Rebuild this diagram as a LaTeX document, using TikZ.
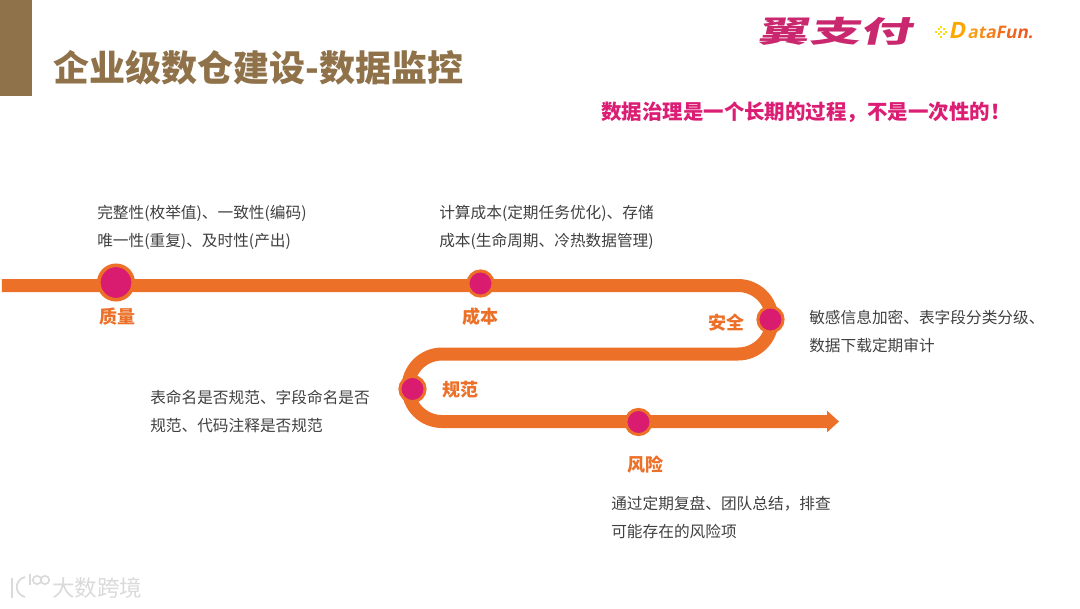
\documentclass[tikz,border=0pt]{standalone}
\usepackage{fontspec}
\usepackage{xcolor}
\usetikzlibrary{arrows.meta,positioning}
\setmainfont{Noto Sans CJK SC}
\newfontfamily\slantfont{Noto Sans CJK SC}[FakeSlant=0.22,FakeStretch=1.74]
\newfontfamily\funfont{Open Sans}[FakeSlant=0.2]
\definecolor{brownbar}{HTML}{8F7249}
\definecolor{routeorange}{HTML}{EC7028}
\definecolor{dotpink}{HTML}{D91C6F}
\definecolor{notepink}{HTML}{DB1E74}
\definecolor{logopink}{HTML}{C9286F}
\definecolor{bodygrey}{HTML}{404040}
\definecolor{markgrey}{HTML}{DADADA}
\tikzset{
  titletext/.style={anchor=west,inner sep=0pt,text=brownbar,font=\fontsize{25.6pt}{30pt}\selectfont\bfseries},
  bodytext/.style={anchor=west,inner sep=0pt,align=left,text=bodygrey,font=\fontsize{11.15pt}{19.9pt}\selectfont},
  marklabel/.style={inner sep=0pt,text=routeorange,font=\fontsize{12.8pt}{15pt}\selectfont\bfseries},
  route/.style={draw=routeorange,line width=3.25mm,rounded corners=8.5mm,-{Triangle[length=3mm,width=5.25mm]}},
  stopdot/.style={circle,draw=routeorange,fill=dotpink,line width=0.75mm,inner sep=0pt,minimum size=6.3mm},
  bigdot/.style={stopdot,line width=0.9mm,minimum size=8.6mm},
}
\begin{document}
\begin{tikzpicture}[x=0.025cm,y=-0.025cm]
\useasboundingbox (0,0) rectangle (1080,608);
\fill[brownbar] (0,0) rectangle (32,96);
\node[titletext] (title) at (53,68) {企业级数仓建设-数据监控};
\node[anchor=west,inner sep=0pt,text=notepink,font=\fontsize{14.55pt}{17pt}\selectfont\bfseries] (note) at (601,112) {数据治理是一个长期的过程，不是一次性的！};

\node[inner sep=0pt,text=logopink,font=\slantfont\fontsize{21pt}{24pt}\selectfont\bfseries] (paylogo) at (835,31) {翼支付};
\foreach \i/\j in {0/2,1/1,1/3,2/0,2/2,2/4,3/1,3/3,4/2}
  \fill[yellow!80!orange] (935+2.6*\i,25.5+2.6*\j) rectangle +(2,2);
\node[anchor=base west,inner sep=0pt,text=orange!70!yellow,font=\funfont\fontsize{16pt}{18pt}\selectfont\bfseries] (fund) at (948,38) {D};
\node[anchor=base west,xshift=0.45mm,inner sep=0pt,font=\funfont\fontsize{12.3pt}{16pt}\selectfont\bfseries] (funlogo) at (fund.base east) {\textcolor[HTML]{F6A01A}{a}\textcolor[HTML]{F5901C}{t}\textcolor[HTML]{F3801E}{a}\textcolor[HTML]{F1701F}{F}\textcolor[HTML]{EF6520}{u}\textcolor[HTML]{EE5A20}{n}\textcolor[HTML]{EE5A20}{.}};

\coordinate (start) at (2,285.5);
\coordinate (turnA) at (772,285.5);
\coordinate (turnB) at (772,354);
\coordinate (turnC) at (408,354);
\coordinate (turnD) at (408,421.5);
\coordinate (tip) at (839,421.5);
\draw[route] (start) -- (turnA) -- (turnB) -- (turnC) -- (turnD) -- (tip);

\node[bigdot] (quality) at (116,282.5) {};
\node[stopdot] (cost) at (480.5,283.5) {};
\node[stopdot] (safety) at (770.5,319.5) {};
\node[stopdot] (norm) at (412.5,389) {};
\node[stopdot] (risk) at (638.5,422) {};

\node[marklabel] (qualitylabel) at (117,317) {质量};
\node[marklabel] (costlabel) at (480,317) {成本};
\node[marklabel] (safetylabel) at (726,323) {安全};
\node[marklabel] (normlabel) at (460,390) {规范};
\node[marklabel] (risklabel) at (645,465) {风险};

\node[bodytext] (qualitytext) at (97,227) {完整性(枚举值)、一致性(编码)\\唯一性(重复)、及时性(产出)};
\node[bodytext] (costtext) at (439,227) {计算成本(定期任务优化)、存储\\成本(生命周期、冷热数据管理)};
\node[bodytext] (safetytext) at (809,331) {敏感信息加密、表字段分类分级、\\数据下载定期审计};
\node[bodytext] (normtext) at (150,411) {表命名是否规范、字段命名是否\\规范、代码注释是否规范};
\node[bodytext] (risktext) at (611,517) {通过定期复盘、团队总结，排查\\可能存在的风险项};

\draw[markgrey,line width=0.45mm] (12,578) -- (12,598);
\draw[markgrey,line width=0.45mm] (25,577) .. controls (14,580) and (14,594) .. (25,597);
\draw[markgrey,line width=0.4mm] (30,574) -- (30,585);
\draw[markgrey,line width=0.4mm] (37,580) circle (4.2) (45,580) circle (4.2);
\node[anchor=west,inner sep=0pt,text=markgrey,font=\fontsize{16pt}{18pt}\selectfont] (mark) at (52,588) {大数跨境};
\end{tikzpicture}
\end{document}
